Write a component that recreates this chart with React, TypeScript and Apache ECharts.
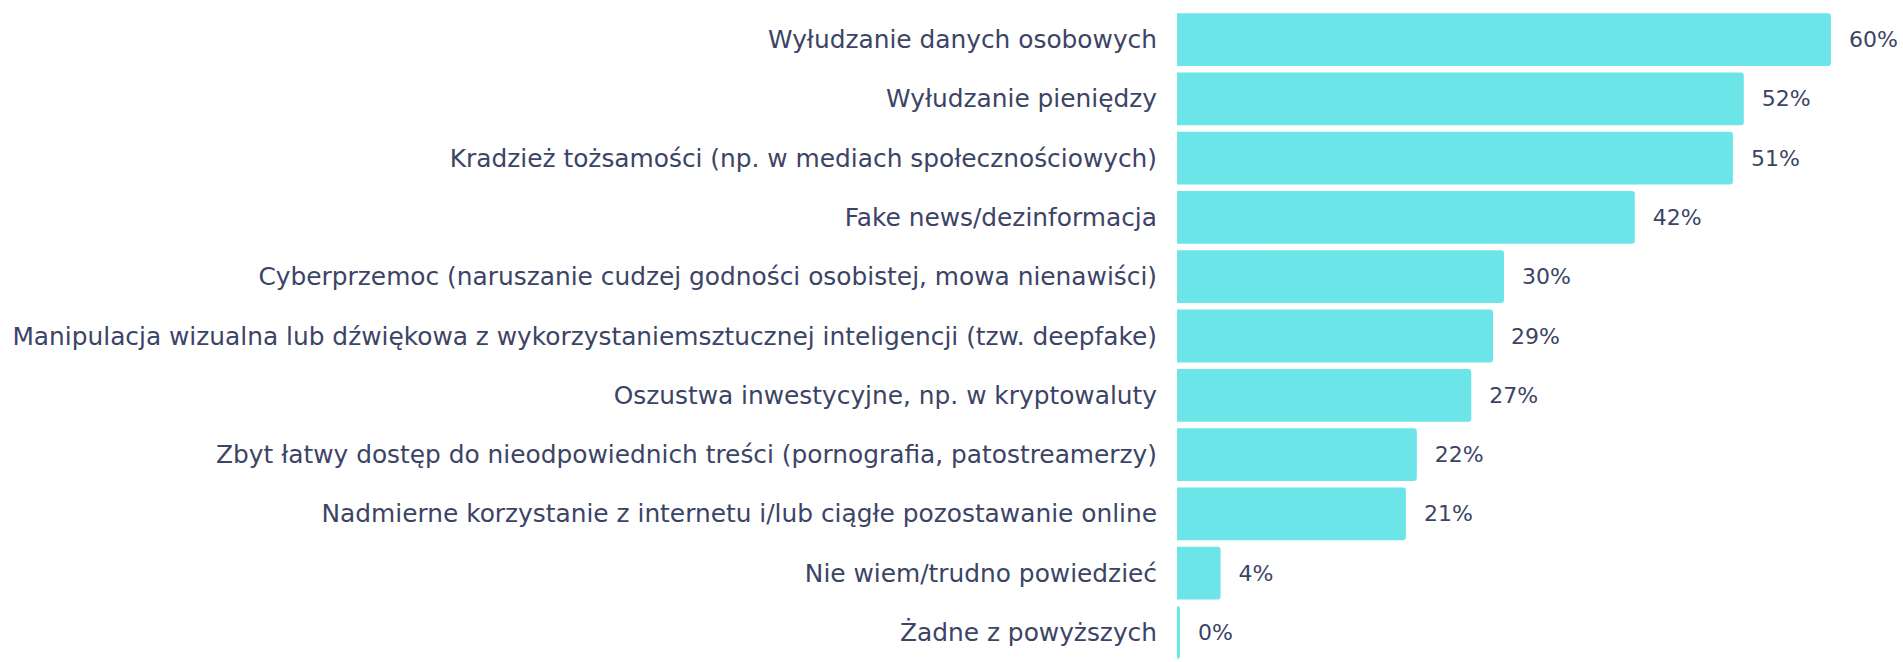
import React, { useEffect, useRef } from "react";
import * as echarts from "echarts";

const categories: string[] = [
  "Wyłudzanie danych osobowych",
  "Wyłudzanie pieniędzy",
  "Kradzież tożsamości (np. w mediach społecznościowych)",
  "Fake news/dezinformacja",
  "Cyberprzemoc (naruszanie cudzej godności osobistej, mowa nienawiści)",
  "Manipulacja wizualna lub dźwiękowa z wykorzystaniemsztucznej inteligencji (tzw. deepfake)",
  "Oszustwa inwestycyjne, np. w kryptowaluty",
  "Zbyt łatwy dostęp do nieodpowiednich treści (pornografia, patostreamerzy)",
  "Nadmierne korzystanie z internetu i/lub ciągłe pozostawanie online",
  "Nie wiem/trudno powiedzieć",
  "Żadne z powyższych",
];

const values: number[] = [60, 52, 51, 42, 30, 29, 27, 22, 21, 4, 0];

const FONT = "'DejaVu Sans', sans-serif";
const TEXT = "#3c4466";
const BAR = "#6ce5e8";

export default function App() {
  const ref = useRef<HTMLDivElement>(null);
  useEffect(() => {
    document.body.style.margin = "0";
    document.body.style.overflow = "hidden";
    if (!ref.current) return;
    const chart = echarts.init(ref.current, undefined, { renderer: "svg" });
    chart.setOption({
      animation: false,
      grid: { left: 1177, top: 10, width: 654, height: 660 },
      xAxis: {
        type: "value",
        min: 0,
        max: 60,
        show: false,
        splitLine: { show: false },
      },
      yAxis: {
        type: "category",
        data: categories,
        inverse: true,
        axisLine: { show: false },
        axisTick: { show: false },
        axisLabel: {
          margin: 20,
          color: TEXT,
          fontSize: 24.85,
          fontFamily: FONT,
        },
      },
      series: [
        {
          type: "bar",
          data: values,
          barCategoryGap: "11%",
          barMinHeight: 3,
          itemStyle: { color: BAR, borderRadius: [0, 3, 3, 0] },
          label: {
            show: true,
            position: "right",
            distance: 18,
            formatter: "{c}%",
            color: TEXT,
            fontSize: 22,
            fontFamily: FONT,
          },
        },
      ],
    });
    return () => chart.dispose();
  }, []);
  return <div ref={ref} style={{ width: 1903, height: 662 }} />;
}
